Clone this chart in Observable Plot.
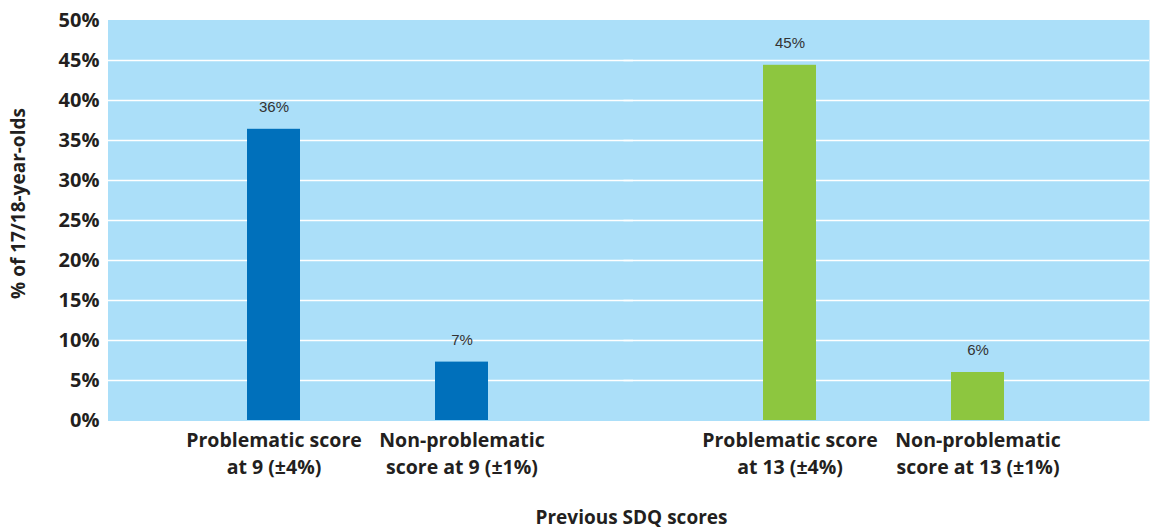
<!DOCTYPE html>
<html>
<head>
<meta charset="utf-8">
<script src="https://cdn.jsdelivr.net/npm/d3@7"></script>
<script src="https://cdn.jsdelivr.net/npm/@observablehq/plot@0.6"></script>
<style>
  body { margin: 0; background: #fff; }
  #chart svg { display: block; }
</style>
</head>
<body>
<div id="chart"></div>
<script>
const ages = ["9", "9", "13", "13"];
const types = ["Problematic", "Non-problematic", "Problematic", "Non-problematic"];
const categoryLabels = [
  "Problematic score\nat 9 (±4%)",
  "Non-problematic\nscore at 9 (±1%)",
  "Problematic score\nat 13 (±4%)",
  "Non-problematic\nscore at 13 (±1%)"
];
const values = [36.4, 7.3, 44.4, 6.0];
const valueLabels = ["36%", "7%", "45%", "6%"];
const yTicks = [0, 5, 10, 15, 20, 25, 30, 35, 40, 45, 50];
const gridTicks = [5, 10, 15, 20, 25, 30, 35, 40, 45];
const colors = {"9": "#0070bb", "13": "#8dc63f"};

const data = ages.map((a, i) => ({age: a, type: types[i], label: categoryLabels[i], value: values[i], text: valueLabels[i]}));

const font = "'Open Sans', sans-serif";

const chart = Plot.plot({
  width: 1162,
  height: 529,
  marginTop: 20,
  marginBottom: 109,
  marginLeft: 108,
  marginRight: 13,
  style: {fontFamily: font, color: "#231f20", background: "#fff"},
  fx: {domain: ["9", "13"], paddingInner: 0, paddingOuter: 0.0077, align: 0.1, axis: "bottom", tickSize: 0, tickFormat: () => "",
       label: "Previous SDQ scores", labelAnchor: "center", labelOffset: 103},
  x: {domain: ["Problematic", "Non-problematic"], paddingInner: 0.72, paddingOuter: 0.7265, axis: null},
  y: {domain: [0, 50], axis: null},
  marks: [
    Plot.frame({fill: "#abdff9", stroke: "#abdff9", strokeWidth: 1, insetLeft: -1, insetRight: -7.5}),
    Plot.gridY(gridTicks, {stroke: "#fff", strokeOpacity: 1, strokeWidth: 1.5, insetLeft: -1.5, insetRight: -8}),
    Plot.barY(data, {fx: "age", x: "type", y: "value", fill: d => colors[d.age]}),
    Plot.text(data, {fx: "age", x: "type", y: "value", text: "text", dy: -22,
      fontFamily: "'Liberation Sans', Arial, sans-serif", fontSize: 15, fill: "#333"}),
    Plot.text(data, {fx: "age", x: "type", y: 0, text: "label", lineAnchor: "top", dy: 7,
      fontWeight: "bold", fontSize: 19.5, lineHeight: 1.38, fill: "#231f20"}),
    Plot.axisY(yTicks, {tickSize: 0, tickPadding: 10, tickFormat: d => d + "%",
      fontSize: 20, fontWeight: "bold", label: "% of 17/18-year-olds", labelAnchor: "center",
      labelArrow: "none", labelOffset: 99})
  ]
});

document.getElementById("chart").appendChild(chart);

chart.querySelectorAll("[aria-label='fx-axis label'] text, [aria-label='y-axis label'] text").forEach(t => {
  t.setAttribute("font-weight", "bold");
  t.setAttribute("font-size", "19");
});
chart.querySelectorAll("[aria-label='y-axis label'] text").forEach(t => {
  t.setAttribute("transform", (t.getAttribute("transform") || "") + " translate(17,1)");
});
chart.querySelectorAll("[aria-label='fx-axis label'] text").forEach(t => {
  t.setAttribute("transform", (t.getAttribute("transform") || "") + " translate(6,0)");
});
</script>
</body>
</html>
